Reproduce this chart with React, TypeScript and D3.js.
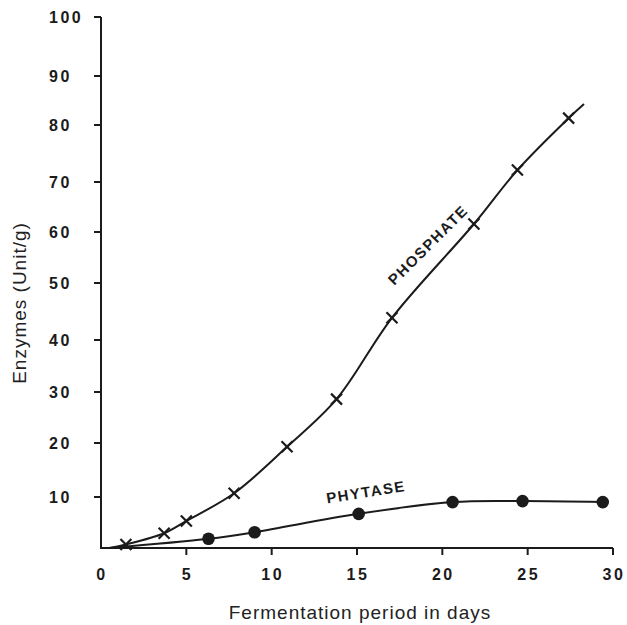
import React from "react";
import * as d3 from "d3";

// ---- data ----
const yTicks = [0, 10, 20, 30, 40, 50, 60, 70, 80, 90, 100];
const xTicks = [0, 5, 10, 15, 20, 25, 30];

// Phosphate (× markers)
const phosphateDays = [1.46, 3.7, 5.0, 7.8, 10.9, 13.8, 17.05, 21.85, 24.4, 27.4];
const phosphateUnits = [0.7, 2.9, 5.3, 10.7, 19.3, 28.6, 43.9, 61.6, 72.1, 81.4];
const phosphateStart = [0.5, 0];
const phosphateEnd = [28.3, 84.3];

// Phytase (● markers)
const phytaseDays = [6.3, 9.0, 15.1, 20.6, 24.7, 29.4];
const phytaseUnits = [1.8, 3.1, 6.7, 9.0, 9.2, 9.0];
const phytaseStart = [0.5, 0];

// ---- layout ----
const W = 627;
const H = 625;
const xLeft = 101;
const xRight = 613;
// hand-drawn axis: tick pixel positions for 0..100
const yTickPx = [548, 497, 443, 392, 340, 283, 232, 182, 125, 76, 17];

const x = d3.scaleLinear().domain([0, 30]).range([xLeft, xRight]);
const y = d3.scaleLinear().domain(yTicks).range(yTickPx);

const ink = "#1b1b1b";

export default function App() {
  const line = d3
    .line<[number, number]>()
    .x((d) => x(d[0]))
    .y((d) => y(d[1]))
    .curve(d3.curveCatmullRom.alpha(0.5));

  const phosPts: [number, number][] = [
    [phosphateStart[0], phosphateStart[1]],
    ...phosphateDays.map((d, i) => [d, phosphateUnits[i]] as [number, number]),
    [phosphateEnd[0], phosphateEnd[1]],
  ];
  const phyPts: [number, number][] = [
    [phytaseStart[0], phytaseStart[1]],
    ...phytaseDays.map((d, i) => [d, phytaseUnits[i]] as [number, number]),
  ];

  const y0 = y(0);
  const tickFont = "'Liberation Sans', Arial, sans-serif";

  return (
    <svg
      width={W}
      height={H}
      style={{ position: "absolute", left: 0, top: 0, background: "#fff" }}
    >
      {/* axes */}
      <line x1={xLeft} x2={xLeft} y1={y(100)} y2={y0} stroke={ink} strokeWidth={2} />
      <line x1={xLeft - 1} x2={xRight} y1={y0} y2={y0} stroke={ink} strokeWidth={2} />

      {yTicks.slice(1).map((t) => (
        <g key={"yt" + t}>
          <line x1={xLeft - 7} x2={xLeft} y1={y(t)} y2={y(t)} stroke={ink} strokeWidth={2} />
          <text
            x={49}
            y={y(t) + 6}
            fontFamily={tickFont}
            fontWeight="bold"
            fontSize={16}
            letterSpacing={2.5}
            fill={ink}
          >
            {t}
          </text>
        </g>
      ))}

      {xTicks.map((t) => (
        <g key={"xt" + t}>
          {t > 0 && (
            <line x1={x(t)} x2={x(t)} y1={y0} y2={y0 + 7} stroke={ink} strokeWidth={2} />
          )}
          <text
            x={x(t) + 1}
            y={580}
            textAnchor="middle"
            fontFamily={tickFont}
            fontWeight="bold"
            fontSize={16}
            letterSpacing={2.5}
            fill={ink}
          >
            {t}
          </text>
        </g>
      ))}

      {/* axis titles */}
      <text
        x={360}
        y={619}
        textAnchor="middle"
        fontFamily="'Liberation Sans', Arial, sans-serif"
        fontSize={19}
        letterSpacing={1}
        fill="#222"
      >
        Fermentation period in days
      </text>
      <text
        transform="translate(26,303) rotate(-90)"
        textAnchor="middle"
        fontFamily="'Liberation Sans', Arial, sans-serif"
        fontSize={19}
        letterSpacing={1}
        fill="#222"
      >
        Enzymes (Unit/g)
      </text>

      {/* curves */}
      <path d={line(phosPts) || ""} fill="none" stroke={ink} strokeWidth={2} />
      <path d={line(phyPts) || ""} fill="none" stroke={ink} strokeWidth={2} />

      {/* markers */}
      {phosphateDays.map((d, i) => {
        const cx = x(d);
        const cy = y(phosphateUnits[i]);
        const s = 5.5;
        return (
          <g key={"pm" + i} stroke={ink} strokeWidth={2.2}>
            <line x1={cx - s} y1={cy - s} x2={cx + s} y2={cy + s} />
            <line x1={cx - s} y1={cy + s} x2={cx + s} y2={cy - s} />
          </g>
        );
      })}
      {phytaseDays.map((d, i) => (
        <circle key={"cm" + i} cx={x(d)} cy={y(phytaseUnits[i])} r={6.3} fill={ink} />
      ))}

      {/* series labels */}
      <text
        transform="translate(428,245) rotate(-45)"
        textAnchor="middle"
        dy="0.35em"
        fontFamily={tickFont}
        fontWeight="bold"
        fontSize={15}
        letterSpacing={1.5}
        fill={ink}
      >
        PHOSPHATE
      </text>
      <text
        transform="translate(366,492) rotate(-9)"
        textAnchor="middle"
        dy="0.35em"
        fontFamily={tickFont}
        fontWeight="bold"
        fontSize={15}
        letterSpacing={1.5}
        fill={ink}
      >
        PHYTASE
      </text>
    </svg>
  );
}
